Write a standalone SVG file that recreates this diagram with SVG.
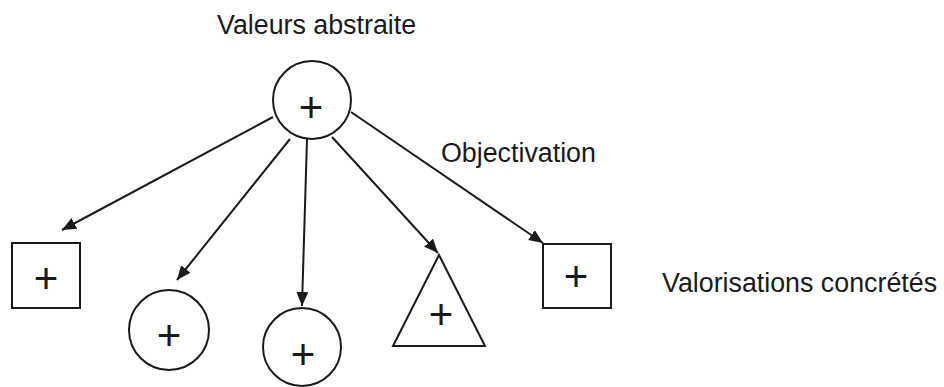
<svg xmlns="http://www.w3.org/2000/svg" width="944" height="387" viewBox="0 0 944 387">
<style>
.shape{fill:none;stroke:#1a1a1a;stroke-width:2}
.edge{fill:none;stroke:#1a1a1a;stroke-width:2}
.lbl{font-family:"Liberation Sans",Arial,sans-serif;font-size:26.8px;fill:#1a1a1a}
.plus{font-family:"Liberation Sans",Arial,sans-serif;font-size:42px;fill:#1a1a1a;text-anchor:middle}
</style>
<defs>
<marker id="ah" markerUnits="userSpaceOnUse" markerWidth="16" markerHeight="14" refX="14" refY="6" orient="auto">
<path d="M0,0 L14,6 L0,12 Z" fill="#1a1a1a"/>
</marker>
</defs>
<rect width="944" height="387" fill="#ffffff"/>
<g id="labels">
<text class="lbl" x="217" y="34">Valeurs abstraite</text>
<text class="lbl" x="441" y="162">Objectivation</text>
<text class="lbl" x="662" y="292">Valorisations concrétés</text>
</g>
<g id="connectors">
<line class="edge" x1="273" y1="117" x2="62" y2="230" marker-end="url(#ah)"/>
<line class="edge" x1="290" y1="139" x2="177" y2="280" marker-end="url(#ah)"/>
<line class="edge" x1="307" y1="139" x2="302" y2="306" marker-end="url(#ah)"/>
<line class="edge" x1="332" y1="137" x2="438" y2="253" marker-end="url(#ah)"/>
<line class="edge" x1="351" y1="112" x2="543" y2="243" marker-end="url(#ah)"/>
</g>
<g id="root">
<circle class="shape" cx="312" cy="100" r="39"/>
<text class="plus" x="311" y="122">+</text>
</g>
<g id="square1">
<rect class="shape" x="12" y="243" width="68" height="65"/>
<text class="plus" x="46" y="293">+</text>
</g>
<g id="circle2">
<circle class="shape" cx="169" cy="330" r="40"/>
<text class="plus" x="169" y="350">+</text>
</g>
<g id="circle3">
<circle class="shape" cx="302" cy="347" r="39"/>
<text class="plus" x="303" y="369">+</text>
</g>
<g id="triangle">
<polygon class="shape" points="439,255 485,346 393,346"/>
<text class="plus" x="441" y="329">+</text>
</g>
<g id="square5">
<rect class="shape" x="543" y="244" width="68" height="64"/>
<text class="plus" x="576" y="291">+</text>
</g>
</svg>
